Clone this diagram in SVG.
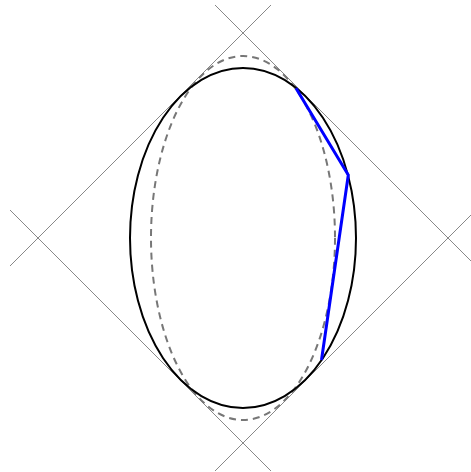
<svg xmlns="http://www.w3.org/2000/svg" width="471" height="472" viewBox="0 0 471 472">
<style>
.tan{stroke:#888;stroke-width:1;fill:none}
.el{stroke:#000;stroke-width:2;fill:none}
.dash{stroke:#777;stroke-width:2;fill:none;stroke-dasharray:7,5}
.poly{stroke:#0000ff;stroke-width:3;fill:none;stroke-linejoin:miter}
</style>
<rect width="471" height="472" fill="#fff"/>
<g id="connectors">
<line class="tan" x1="215" y1="5" x2="476" y2="266"/>
<line class="tan" x1="271" y1="5" x2="10" y2="266"/>
<line class="tan" x1="10" y1="210" x2="271" y2="471"/>
<line class="tan" x1="476" y1="210" x2="215" y2="471"/>
</g>
<g id="dashed-ellipse"><ellipse class="dash" cx="243" cy="238" rx="92" ry="182"/></g>
<g id="ellipse"><ellipse class="el" cx="243" cy="238" rx="113" ry="170"/></g>
<g id="polyline"><polyline class="poly" points="296,88.3 348.3,175 321.5,360"/></g>
</svg>
